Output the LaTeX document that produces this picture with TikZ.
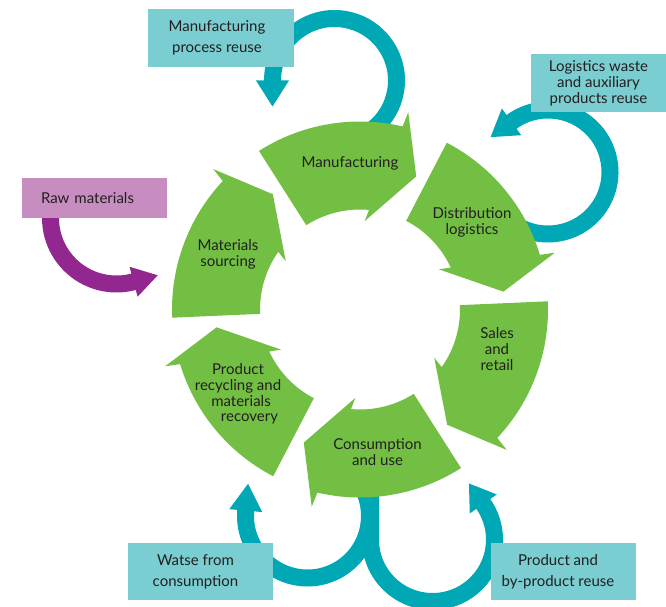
\documentclass[tikz,border=0pt]{standalone}
\usepackage{fontspec}
\setmainfont{Lato}
\usetikzlibrary{calc}
\definecolor{segc}{RGB}{114,191,68}
\definecolor{ringc}{RGB}{0,168,181}
\definecolor{tboxc}{RGB}{122,205,208}
\definecolor{pboxc}{RGB}{200,141,192}
\definecolor{pringc}{RGB}{146,39,143}
\definecolor{txtc}{RGB}{35,31,32}
\begin{document}
\begin{tikzpicture}[x=1pt,y=1pt,
  ring/.style={draw=ringc, line width=17pt, line cap=butt},
  pring/.style={draw=pringc, line width=17pt, line cap=butt},
  seglabel/.style={text=txtc, align=center, font=\fontsize{15}{15.8}\selectfont, inner sep=0pt},
  tbox/.style={fill=tboxc, text=txtc, align=center, inner sep=0pt, font=\fontsize{15}{21}\selectfont},
  pbox/.style={fill=pboxc, text=txtc, inner sep=0pt, font=\fontsize{15}{17}\selectfont}]
\useasboundingbox (0,0) rectangle (666,606);
% centres
\coordinate (O) at (360,296.5);
\coordinate (c1) at (334.5,525.5);
\coordinate (c2) at (548,434);
\coordinate (c3) at (307.5,90);
\coordinate (c4) at (432.5,66.5);
\coordinate (cp) at (116.5,388);
% ring 1 : manufacturing process reuse
\draw[ring] ($(c1)+(-60:62)$) arc[start angle=-60, end angle=181, radius=62pt];
\fill[ringc] ($(c1)+(180:62)+(180:16.5)$) -- ($(c1)+(180:62)+(270:26)$) -- ($(c1)+(180:62)+(0:16.5)$) -- cycle;
% ring 2 : logistics waste
\draw[ring] ($(c2)+(-125:62)$) arc[start angle=-125, end angle=127, radius=62pt];
\fill[ringc] ($(c2)+(126:62)+(126:16.5)$) -- ($(c2)+(126:62)+(216:26)$) -- ($(c2)+(126:62)+(-54:16.5)$) -- cycle;
% ring 3 : waste from consumption
\draw[ring] ($(c3)+(40:62)$) arc[start angle=40, end angle=-186, radius=62pt];
\fill[ringc] ($(c3)+(-185:62)+(-185:16.5)$) -- ($(c3)+(-185:62)+(85:27)$) -- ($(c3)+(-185:62)+(-5:16.5)$) -- cycle;
% ring 4 : product and by-product reuse
\draw[ring] ($(c4)+(180:62)+(0,48)$) -- ($(c4)+(180:62)$) arc[start angle=180, end angle=396, radius=62pt];
\fill[ringc] ($(c4)+(35:62)+(35:16.5)$) -- ($(c4)+(35:62)+(125:25)$) -- ($(c4)+(35:62)+(215:16.5)$) -- cycle;
% purple arrow
\draw[pring] ($(cp)+(180:66)+(0,12)$) -- ($(cp)+(180:66)$) arc[start angle=180, end angle=286, radius=66pt];
\fill[pringc] ($(cp)+(285:66)+(285:15.5)$) -- ($(cp)+(285:66)+(15:25)$) -- ($(cp)+(285:66)+(105:15.5)$) -- cycle;
% green segments
\foreach \a in {122.5,62.5,2.5,-57.5,-117.5,-177.5}{
  \fill[segc, shift={(O)}] (\a:188) arc[start angle=\a, end angle=\a-45.6, radius=188pt]
    -- ({\a-46.25}:203) -- ({\a-55.4}:144.5) -- ({\a-35.5}:88.5) -- ({\a-37.7}:100)
    arc[start angle=\a-37.7, end angle=\a, radius=100pt] -- cycle;
}
% segment labels
\node[seglabel] (lman) at (350,443) {Manufacturing};
\node[seglabel] (ldis) at (472,384) {Distribution\\logistics};
\node[seglabel] (lsal) at (497,257) {Sales\\and\\retail};
\node[seglabel] (lcon) at (377.5,154) {Consumption\\and use};
\node[seglabel] (lrec) at (238,212) {Product\\recycling and\\\hspace*{6pt}materials\\\hspace*{23pt}recovery};
\node[seglabel] (lmat) at (228,352) {Materials\\sourcing};
% boxes
\node[tbox, minimum width=146pt, minimum height=58pt] (bman) at (221,568) {Manufacturing\hspace*{8pt}\\process reuse\hspace*{8pt}};
\node[tbox, minimum width=135pt, minimum height=58pt, font=\fontsize{15}{15.8}\selectfont] (blog) at (598.5,523) {Logistics waste\\and auxiliary\\products reuse};
\node[pbox, minimum width=145pt, minimum height=40pt, text width=107pt, align=left] (braw) at (94.5,408) {Raw materials};
\node[tbox, minimum width=145pt, minimum height=57pt] (bwas) at (200.5,34.5) {Watse from\hspace*{10pt}\\consumption\hspace*{10pt}};
\node[tbox, minimum width=145pt, minimum height=57pt] (bpro) at (563.5,34.5) {Product and\hspace*{11pt}\\by-product reuse\hspace*{11pt}};
\end{tikzpicture}
\end{document}
